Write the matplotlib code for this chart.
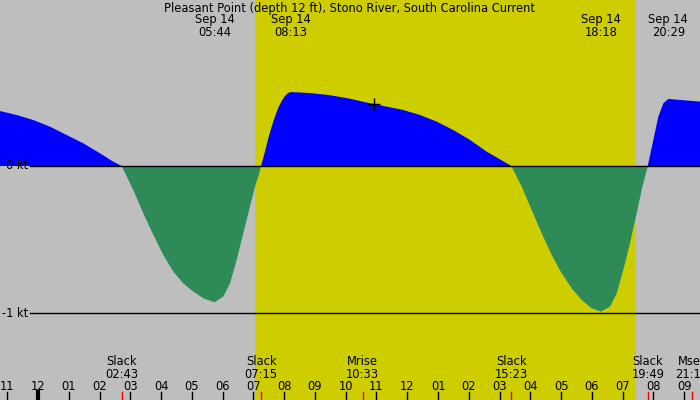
import matplotlib
matplotlib.use('Agg')
import matplotlib.pyplot as plt

# hours since midnight Sep 14, current speed in knots
hours = [-1.235, -0.692, -0.153, 0.39, 0.933, 1.472, 2.015, 2.447, 2.717,
         3.097, 3.422, 3.748, 4.072, 4.397, 4.722, 5.047, 5.372, 5.733,
         6.022, 6.240, 6.458, 6.672, 6.890, 7.052, 7.192, 7.250,
         7.377, 7.485, 7.595, 7.702, 7.81, 7.92, 8.027, 8.135, 8.217,
         8.785, 9.435, 10.085, 10.79, 11.333, 11.872, 12.415, 12.957,
         13.497, 14.04, 14.582, 15.015, 15.383,
         15.72, 16.045, 16.37, 16.695, 17.02, 17.345, 17.67, 17.994, 18.30,
         18.59, 18.807, 19.022, 19.24, 19.457, 19.62, 19.817,
         20.0, 20.16, 20.323, 20.483, 21.515]
speed = [0.373, 0.346, 0.312, 0.267, 0.210, 0.154, 0.086, 0.029, 0.0,
         -0.163, -0.321, -0.468, -0.604, -0.717, -0.797, -0.853, -0.898, -0.926,
         -0.887, -0.797, -0.638, -0.457, -0.276, -0.14, -0.05, 0.0,
         0.097, 0.188, 0.267, 0.335, 0.396, 0.441, 0.475, 0.496, 0.502,
         0.496, 0.482, 0.459, 0.426, 0.403, 0.380, 0.346, 0.301,
         0.244, 0.177, 0.097, 0.045, 0.0,
         -0.14, -0.299, -0.457, -0.604, -0.729, -0.830, -0.910, -0.966, -0.989,
         -0.955, -0.865, -0.706, -0.525, -0.321, -0.163, 0.0,
         0.177, 0.335, 0.425, 0.455, 0.437]

title = 'Pleasant Point (depth 12 ft), Stono River, South Carolina Current'

# max/min current labels at the top
peak_times = [5.733, 8.217, 18.30, 20.483]
peak_labels = ['Sep 14\n05:44', 'Sep 14\n08:13', 'Sep 14\n18:18', 'Sep 14\n20:29']

# slack / moon events at the bottom
event_times = [2.717, 7.25, 10.55, 15.383, 19.817, 21.25]
event_labels = ['Slack\n02:43', 'Slack\n07:15', 'Mrise\n10:33', 'Slack\n15:23',
                'Slack\n19:49', 'Mset\n21:15']

sunrise = 7.052
sunset = 19.435
now_time = 10.93
now_speed = 0.419

x0, x1 = -1.235, 21.515
y0, y1 = -1.589, 1.127
fs = 8.3

fig = plt.figure(figsize=(7, 4), dpi=100)
ax = fig.add_axes([0, 0, 1, 1])
ax.set_xlim(x0, x1)
ax.set_ylim(y0, y1)
ax.axis('off')
ax.add_patch(plt.Rectangle((x0, y0), x1 - x0, y1 - y0, color='#bebebe', zorder=0))
ax.axvspan(sunrise, sunset, color='#cdcd00', zorder=1, lw=0)

ax.fill_between(hours, speed, 0, where=[s >= 0 for s in speed], interpolate=True,
                color='#0000ff', lw=0, zorder=2)
ax.fill_between(hours, speed, 0, where=[s <= 0 for s in speed], interpolate=True,
                color='#2e8b57', lw=0, zorder=2)

# level lines with labels
lx = x0 + 30 / 700 * (x1 - x0)
for lev, lab in [(0, '0 kt'), (-1, '-1 kt')]:
    ax.plot([lx, x1], [lev, lev], color='black', lw=1, zorder=3)
    ax.text(lx - 0.05, lev, lab, ha='right', va='center', fontsize=fs, zorder=4)

ax.plot([now_time], [now_speed], marker='+', color='black', ms=9, mew=1, zorder=4)

ax.text((x0 + x1) / 2, y1 - 0.015, title, ha='center', va='top', fontsize=fs)
for t, lab in zip(peak_times, peak_labels):
    ax.text(t, y1 - 0.09, lab, ha='center', va='top', fontsize=fs, linespacing=0.95)

for t, lab in zip(event_times, event_labels):
    ax.text(t, -1.285, lab, ha='center', va='top', fontsize=fs, linespacing=0.95)
    ax.axvline(t, ymin=0, ymax=8 / 400, color='red', lw=1, zorder=4)

for h in range(-1, 22):
    hh = h % 12
    if hh == 0:
        hh = 12
    ax.text(h, -1.495, '%02d' % hh, ha='center', va='center', fontsize=fs)
    ax.axvline(h, ymin=0, ymax=8 / 400, color='black', lw=3 if h == 0 else 1, zorder=4)

fig.savefig('out.png', dpi=100)
